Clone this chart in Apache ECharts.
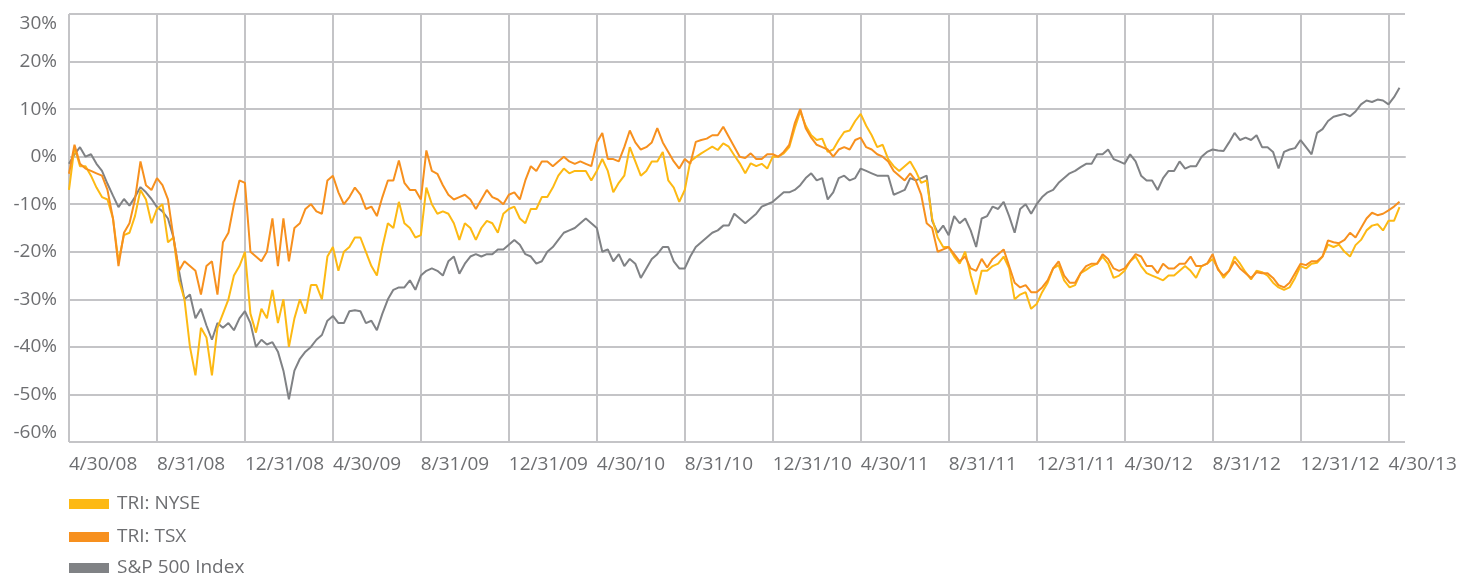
<!DOCTYPE html>
<html>
<head>
<meta charset="utf-8">
<script src="https://cdn.jsdelivr.net/npm/echarts@6/dist/echarts.min.js"></script>
<style>
html,body{margin:0;padding:0;background:#fff;}
#chart{width:1462px;height:577px;}
</style>
</head>
<body>
<div id="chart"></div>
<script>
// Axis tick labels (one every 4 months)
const tickLabels = ['4/30/08','8/31/08','12/31/08','4/30/09','8/31/09','12/31/09','4/30/10','8/31/10','12/31/10','4/30/11','8/31/11','12/31/11','4/30/12','8/31/12','12/31/12','4/30/13'];
const samplesPerTick = 16;   // quarter-month samples between labelled ticks
const sampleCount = 244;     // quarter-month samples from 4/30/08 to late May 2013
const seriesNames = ['TRI: NYSE', 'TRI: TSX', 'S&P 500 Index'];

// Cumulative return (%), quarter-month samples starting 4/30/08
const nyse = [
-7, 2, -2, -2, -4, -6.5, -8.5, -9, -13, -22, -16.5, -16, -12.5, -7, -9, -14,
-11, -10, -18, -17, -26, -30, -40, -46, -36, -38, -46, -36, -33, -30, -25, -23,
-20, -33, -37, -32, -34, -28, -35, -30, -40, -34, -30, -33, -27, -27, -30, -21,
-19, -24, -20, -19, -17, -17, -20, -23, -25, -19, -14, -15, -9.5, -14, -15, -17,
-16.5, -6.5, -10, -12, -11.5, -12, -14, -17.5, -14, -15, -17.5, -15, -13.5, -14, -16, -12,
-11, -10.5, -13, -14, -11, -11, -8.5, -8.5, -6.5, -4, -2.5, -3.5, -3, -3, -3, -5,
-3, -0.5, -3, -7.5, -5.5, -4, 2, -1, -4, -3, -1, -1, 1, -5, -6.5, -9.5,
-7, -1, -0.1, 0.7, 1.4, 2.1, 1.4, 2.8, 2.1, 0.3, -1.4, -3.5, -1.4, -2, -1.5, -2.5,
0, 0, 0.7, 2, 6, 9.5, 6.5, 4.5, 3.5, 3.8, 1, 1.5, 3.5, 5.2, 5.5, 7.5,
9, 6.5, 4.5, 2, 2.5, -0.5, -2, -3, -2, -1, -3, -5.5, -5, -13, -17, -19,
-19, -21, -22.5, -20, -25, -29, -24, -24, -23, -22.5, -21, -23.5, -30, -29, -28.5, -32,
-31, -28.5, -26.5, -23.5, -22.8, -26, -27.5, -27, -24.5, -23.8, -23, -22.5, -21, -22.5, -25.5, -25,
-24, -22, -21, -23, -24.5, -25, -25.5, -26, -25, -25, -24, -23, -24, -25.5, -23, -22.5,
-21.5, -23.5, -25.5, -24, -21, -22.5, -24.3, -25.8, -24, -24.3, -25, -26.5, -27.5, -28, -27.5, -25.5,
-23, -23.5, -22.5, -22.3, -21, -18.5, -19, -18.5, -20, -21, -18.6, -17.5, -15.5, -14.5, -14.2, -15.5, -13.5, -13.5, -10.6
];

const tsx = [
-3.6, 2.5, -1.5, -2.5, -3, -3.5, -4, -7, -13, -23, -16, -14, -9, -1, -6, -7,
-4.5, -6, -9, -17, -24, -22, -23, -24, -29, -23, -22, -29, -18, -16, -10, -5,
-5.5, -20, -21, -22, -20, -13, -23, -13, -22, -15, -14, -11, -10, -11.5, -12, -5,
-4, -7.5, -10, -8.5, -6.5, -8, -11, -10.5, -12.5, -8.5, -5, -5, -0.8, -5.5, -7, -7,
-9, 1.3, -3, -3.6, -6, -8, -9, -8.5, -8, -9, -11, -9, -7, -8.5, -9, -10,
-8, -7.5, -9, -5, -2, -3, -1, -1, -2, -1, 0, -1, -1.5, -1, -1.5, -2,
3, 5, -0.5, -0.5, -1, 2, 5.5, 3, 1.5, 2, 3, 6, 3, 1, -1, -2.5,
-0.5, -1.5, 3.1, 3.5, 3.8, 4.5, 4.5, 6.3, 4.2, 2.1, 0, -0.3, 0.7, -0.5, -0.5, 0.5,
0.5, 0, 1, 2.5, 7, 10, 6, 4, 2.5, 2, 1.5, 0, 1.5, 2, 1.5, 3.5,
4, 2, 1.5, 0.5, 0, -1, -3, -4, -5, -3.5, -5, -8, -14, -15, -20, -19.5,
-19, -20.5, -22, -21, -23.5, -24, -21.5, -23.3, -21.5, -20.5, -19.5, -23, -26.5, -27.5, -27, -28.5,
-28.5, -27.5, -26, -23.5, -22, -25, -26.5, -26.5, -24.5, -23, -22.5, -22.5, -20.5, -21.5, -23.5, -24,
-23.5, -22, -20.5, -21, -23, -23, -24.5, -22.5, -23.5, -23.5, -22.5, -22.5, -21, -23, -23, -22.5,
-20.5, -23.8, -25, -24, -22, -23.5, -24.5, -25.5, -24.3, -24.5, -24.5, -25.5, -27, -27.5, -26.5, -24.5,
-22.5, -22.8, -22, -22, -21, -17.6, -18, -18.2, -17.5, -16, -17, -15, -13, -11.8, -12.3, -12, -11.3, -10.5, -9.5
];

const sp500 = [
-1.5, 0.5, 2, 0, 0.5, -1.5, -3, -5.7, -8.2, -10.6, -8.9, -10.3, -8.5, -6.4, -7.5, -8.9,
-10.6, -11.5, -13, -17, -24, -30, -29, -34, -32, -35.5, -38.5, -35, -36, -35, -36.5, -34,
-32.5, -35, -40, -38.5, -39.5, -39, -41, -45, -51, -45, -42.5, -41, -40, -38.5, -37.5, -34.5,
-33.5, -35, -35, -32.5, -32.3, -32.5, -35, -34.5, -36.5, -33, -30, -28, -27.5, -27.5, -26, -28,
-25, -24, -23.5, -24, -25, -22, -21, -24.6, -22.5, -21, -20.5, -21, -20.5, -20.5, -19.5, -19.5,
-18.5, -17.5, -18.5, -20.5, -21, -22.5, -22, -20, -19, -17.5, -16, -15.5, -15, -14, -13, -14,
-15, -20, -19.5, -22, -20.5, -23, -21.5, -22.5, -25.5, -23.5, -21.5, -20.5, -19, -19, -22, -23.5,
-23.5, -21, -19, -18, -17, -16, -15.5, -14.5, -14.5, -12, -13, -14, -13, -12, -10.5, -10,
-9.5, -8.5, -7.5, -7.5, -7, -6, -4.5, -3.5, -5, -4.5, -9, -7.5, -4.5, -4, -5, -4.5,
-2.5, -3, -3.5, -4, -4, -4, -8, -7.5, -7, -4.5, -5, -4.5, -4, -13.5, -16, -14.5,
-16.5, -12.5, -14, -13, -15.5, -19, -13, -12.5, -10.5, -11, -9.5, -12.5, -16, -11, -10, -12,
-10, -8.5, -7.5, -7, -5.5, -4.5, -3.5, -3, -2.2, -1.5, -1.5, 0.5, 0.5, 1.5, -0.5, -1,
-1.5, 0.5, -1, -4, -5, -5, -7, -4.5, -3, -3, -1, -2.5, -2, -2, 0, 1,
1.5, 1.3, 1.2, 3, 5, 3.5, 4, 3.5, 4.5, 2, 2, 1, -2.5, 1, 1.5, 1.8,
3.5, 2, 0.5, 5, 5.8, 7.5, 8.4, 8.7, 9, 8.5, 9.5, 11, 11.8, 11.5, 12, 11.8, 11, 12.5, 14.5
];

const samples = Array.from({length: sampleCount}, (_, i) => i);

const textColor = '#6d6e71';
const gridColor = '#c4c4c7';
const font = "'Open Sans', 'Liberation Sans', sans-serif";
const legendTops = [493, 526, 557];

const legendStyle = (name, top) => ({
  orient: 'vertical',
  left: 69,
  top: top,
  padding: 0,
  icon: 'rect',
  itemWidth: 40,
  itemHeight: 10,
  data: [name],
  textStyle: {color: textColor, fontSize: 19, fontFamily: font, lineHeight: 20, padding: [2, 0, 0, 3]}
});

const chart = echarts.init(document.getElementById('chart'), null, {renderer: 'canvas'});
chart.setOption({
  animation: false,
  grid: {left: 69, right: 57, top: 14, bottom: 135},
  legend: seriesNames.map((n, i) => legendStyle(n, legendTops[i])),
  xAxis: {
    type: 'category',
    data: samples,
    boundaryGap: false,
    axisLine: {show: true, lineStyle: {color: gridColor, width: 2}},
    axisTick: {show: false},
    axisLabel: {
      interval: (idx) => idx % samplesPerTick === 0,
      formatter: (v, idx) => tickLabels[idx / samplesPerTick] || '',
      align: 'left',
      margin: 13,
      color: textColor,
      fontSize: 19,
      fontFamily: font
    },
    splitLine: {
      show: true,
      interval: (idx) => idx % samplesPerTick === 0,
      lineStyle: {color: gridColor, width: 2}
    }
  },
  yAxis: {
    type: 'value',
    min: -60,
    max: 30,
    interval: 10,
    axisLine: {show: false},
    axisTick: {show: false},
    axisLabel: {
      formatter: '{value}%',
      margin: 12,
      color: textColor,
      fontSize: 19,
      fontFamily: font,
      verticalAlignMaxLabel: 'top',
      verticalAlignMinLabel: 'bottom'
    },
    splitLine: {lineStyle: {color: gridColor, width: 2}}
  },
  series: [
    {name: seriesNames[0], type: 'line', data: nyse, showSymbol: false, symbol: 'none', z: 3,
     itemStyle: {color: '#FDB913'}, lineStyle: {color: '#FDB913', width: 2}},
    {name: seriesNames[1], type: 'line', data: tsx, showSymbol: false, symbol: 'none', z: 4,
     itemStyle: {color: '#F7901E'}, lineStyle: {color: '#F7901E', width: 2}},
    {name: seriesNames[2], type: 'line', data: sp500, showSymbol: false, symbol: 'none', z: 2,
     itemStyle: {color: '#808285'}, lineStyle: {color: '#808285', width: 2}}
  ]
});
</script>
</body>
</html>
